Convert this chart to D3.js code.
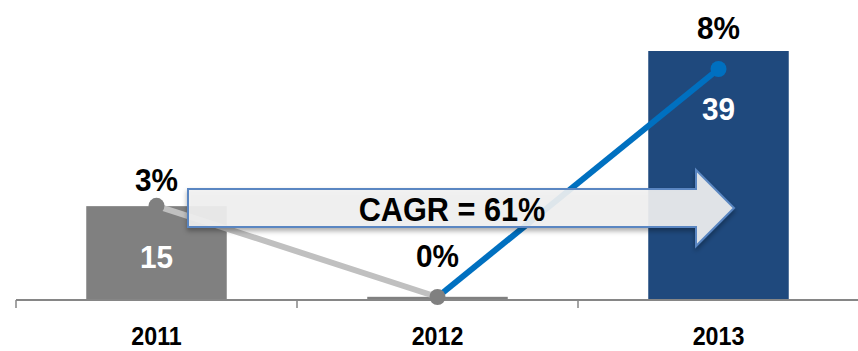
<!DOCTYPE html>
<html>
<head>
<meta charset="utf-8">
<script src="https://cdn.jsdelivr.net/npm/d3@7"></script>
<style>
    body { margin: 0; background: #fff; }
    svg { display: block; font-family: "Liberation Sans", Arial, sans-serif; font-weight: bold; }
</style>
</head>
<body>
<div id="chart"></div>
<script>
// Revenue bars with growth line and CAGR arrow

// Data
const years = ["2011", "2012", "2013"];
const revenue = [14.7, 0.5, 39];
const revenueLabels = ["15", "", "39"];
const growth = [3.2, 0, 8];
const cagrText = "CAGR = 61%";

const width = 858;
const height = 351;
const baseY = 300;
const squeeze = 0.93;   // text in the original is a bit narrow

const svg = d3.select("#chart")
    .append("svg")
    .attr("width", width)
    .attr("height", height);

// Shadow for the arrow
const defs = svg.append("defs");
defs.append("filter")
    .attr("id", "shadow")
    .attr("x", "-10%").attr("y", "-30%")
    .attr("width", "120%").attr("height", "180%")
    .append("feDropShadow")
    .attr("dx", 0).attr("dy", 3)
    .attr("stdDeviation", 2.5)
    .attr("flood-color", "#000")
    .attr("flood-opacity", 0.35);

// Scales
const x = d3.scaleBand()
    .domain(years)
    .range([16, 859])
    .paddingInner(0)
    .paddingOuter(0);

const y = d3.scaleLinear()
    .domain([0, 39])
    .range([baseY, 51]);

const y2 = d3.scaleLinear()
    .domain([0, 8])
    .range([297, 69]);

const barColor = ["#808080", "#808080", "#1f497d"];
const barW = x.bandwidth() * 0.5;
const cx = d => x(d) + x.bandwidth() / 2;

// place squeezed text at (px, py)
const place = (px, py) => `translate(${px},${py}) scale(${squeeze},1)`;

// Bars
svg.append("g")
    .selectAll("rect")
    .data(years)
    .join("rect")
    .attr("x", d => cx(d) - barW / 2)
    .attr("y", (d, i) => y(revenue[i]))
    .attr("width", barW)
    .attr("height", (d, i) => baseY - y(revenue[i]))
    .attr("fill", (d, i) => barColor[i]);

// Axis line and ticks
const axis = svg.append("g").attr("stroke", "#868686");
axis.append("line")
    .attr("x1", x.range()[0]).attr("x2", width)
    .attr("y1", baseY).attr("y2", baseY)
    .attr("stroke-width", 2);
axis.selectAll(".tick")
    .data(years)
    .join("line")
    .attr("x1", d => x(d)).attr("x2", d => x(d))
    .attr("y1", baseY).attr("y2", baseY + 8)
    .attr("stroke-width", 1.5);

// Year labels
svg.append("g")
    .selectAll("text")
    .data(years)
    .join("text")
    .attr("transform", d => place(cx(d), 345))
    .attr("text-anchor", "middle")
    .attr("font-size", 25)
    .attr("fill", "#000")
    .text(d => d);

// Growth line segments
const pts = years.map((d, i) => [cx(d), y2(growth[i])]);
const segColor = ["#c0c0c0", "#0070c0"];
svg.append("g")
    .selectAll("line")
    .data(d3.pairs(pts))
    .join("line")
    .attr("x1", d => d[0][0]).attr("y1", d => d[0][1])
    .attr("x2", d => d[1][0]).attr("y2", d => d[1][1])
    .attr("stroke", (d, i) => segColor[i])
    .attr("stroke-width", 6);

const dotColor = ["#808080", "#808080", "#0070c0"];
svg.append("g")
    .selectAll("circle")
    .data(pts)
    .join("circle")
    .attr("cx", d => d[0])
    .attr("cy", d => d[1])
    .attr("r", 8)
    .attr("fill", (d, i) => dotColor[i]);

// CAGR arrow
const ax0 = 188, ax1 = 696, tip = 734;
const bodyTop = 189, bodyBot = 227, headTop = 170, headBot = 246;
const midY = (bodyTop + bodyBot) / 2;
const arrowPath = d3.path();
arrowPath.moveTo(ax0, bodyTop);
arrowPath.lineTo(ax1, bodyTop);
arrowPath.lineTo(ax1, headTop);
arrowPath.lineTo(tip, midY);
arrowPath.lineTo(ax1, headBot);
arrowPath.lineTo(ax1, bodyBot);
arrowPath.lineTo(ax0, bodyBot);
arrowPath.closePath();

svg.append("path")
    .attr("d", arrowPath.toString())
    .attr("fill", "#f2f2f2")
    .attr("fill-opacity", 0.9)
    .attr("stroke", "#5a86c2")
    .attr("stroke-width", 2)
    .attr("filter", "url(#shadow)");

svg.append("text")
    .attr("transform", place(452, 221))
    .attr("text-anchor", "middle")
    .attr("font-size", 33)
    .attr("fill", "#000")
    .text(cagrText);

// Growth % labels
const pctDy = i => i === 0 ? -15 : -30;
svg.append("g")
    .selectAll("text")
    .data(pts)
    .join("text")
    .attr("transform", (d, i) => place(d[0], d[1] + pctDy(i)))
    .attr("text-anchor", "middle")
    .attr("font-size", 32)
    .attr("fill", "#000")
    .text((d, i) => d3.format(".0f")(growth[i]) + "%");

// Revenue labels inside bars
const valY = (d, i) => i === 0 ? (y(revenue[i]) + baseY) / 2 + 15 : y(revenue[i]) + 69;
svg.append("g")
    .selectAll("text")
    .data(years)
    .join("text")
    .attr("transform", (d, i) => place(cx(d), valY(d, i)))
    .attr("text-anchor", "middle")
    .attr("font-size", 32)
    .attr("fill", "#fff")
    .text((d, i) => revenueLabels[i]);
</script>
</body>
</html>
